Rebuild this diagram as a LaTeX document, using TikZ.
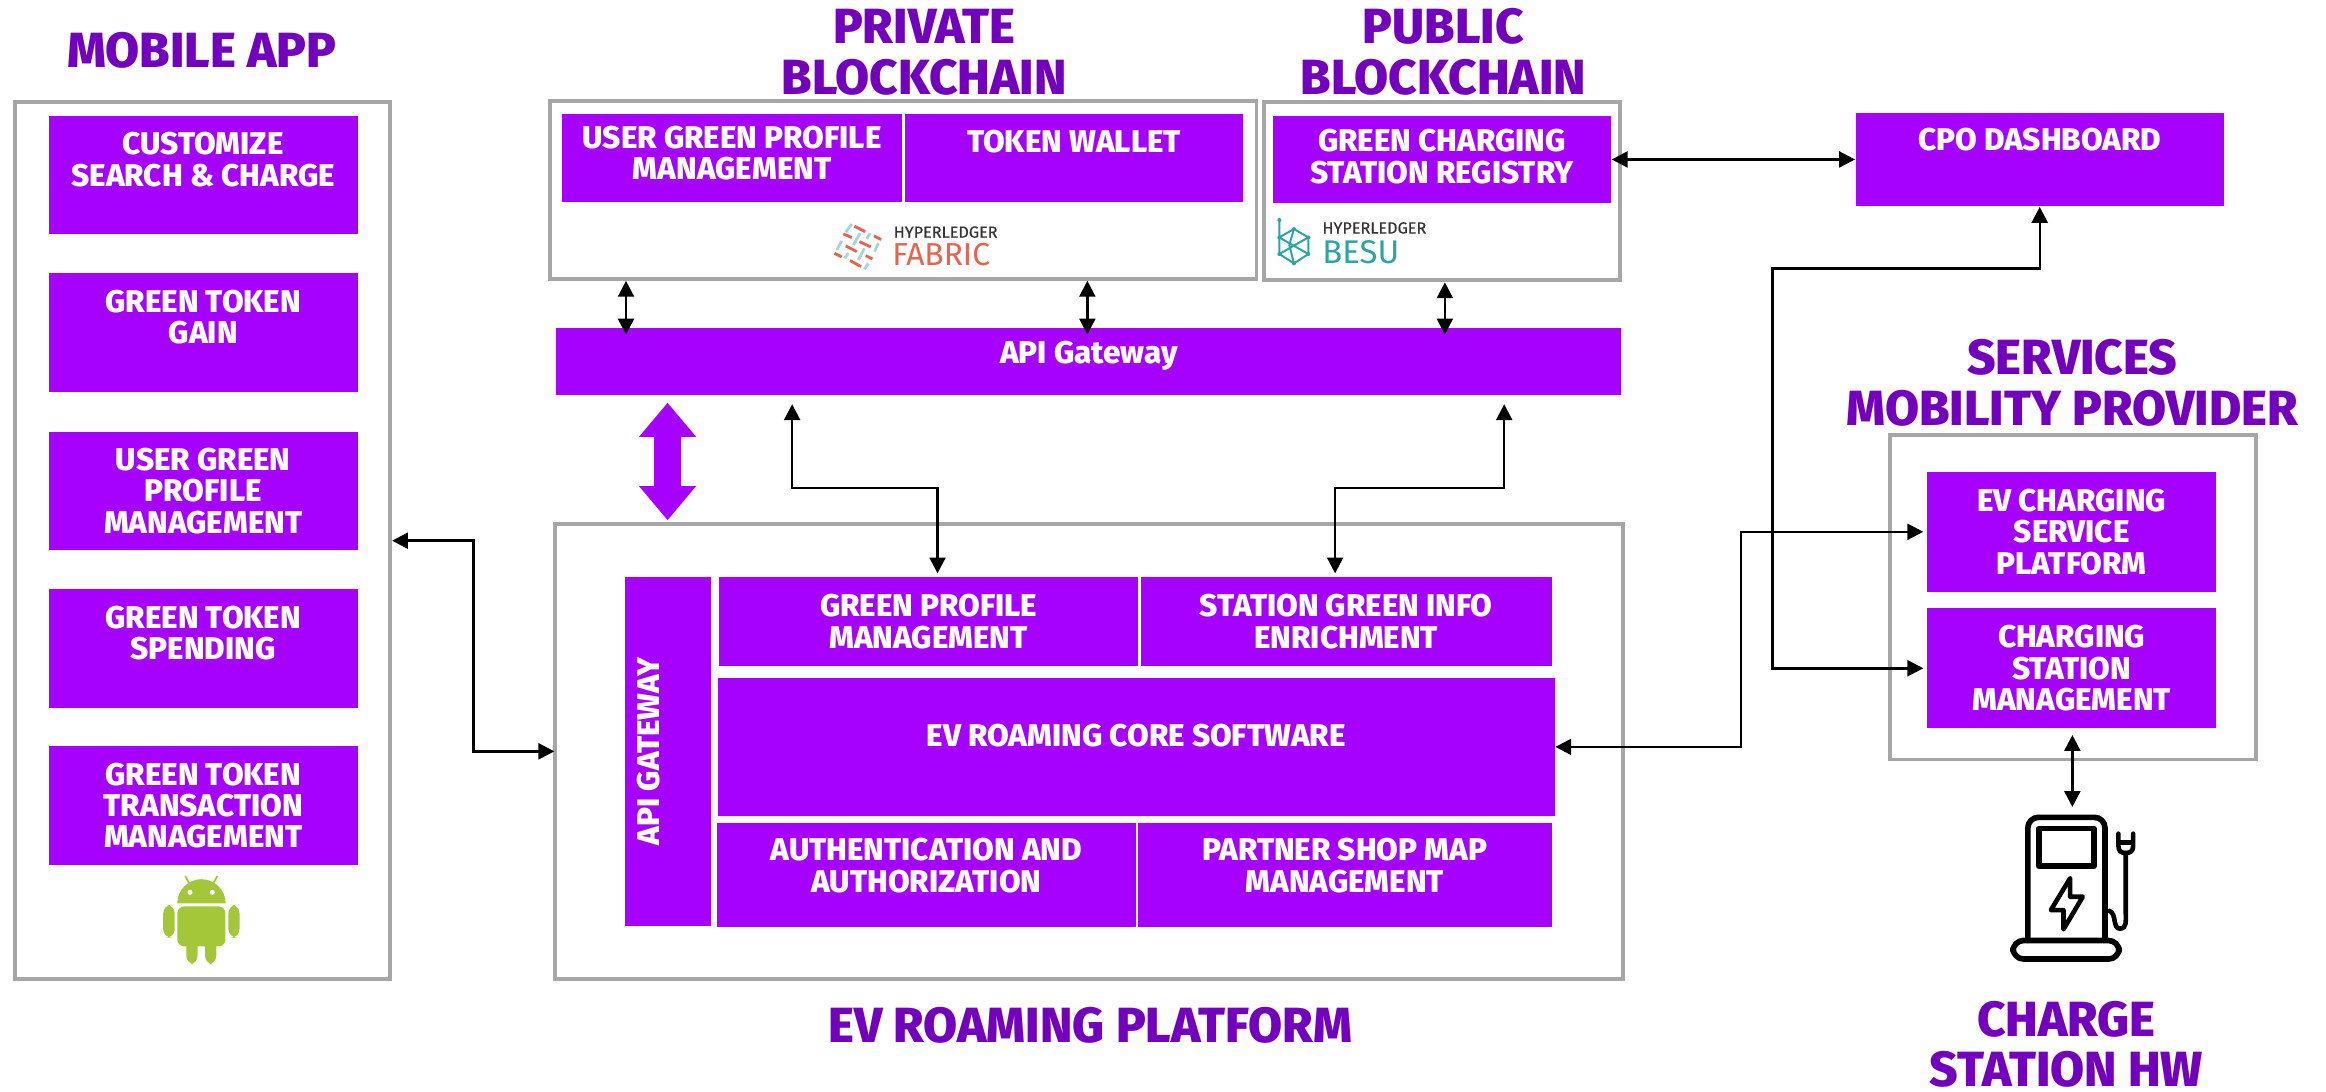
\documentclass[tikz,border=0pt]{standalone}
\usepackage{fontspec}
\setmainfont{Fira Sans}[BoldFont={Fira Sans ExtraBold}]
\usetikzlibrary{arrows.meta,calc}
\newcommand{\ux}{0.4205pt}
\definecolor{boxviolet}{HTML}{A600FF}
\definecolor{titleviolet}{HTML}{7200BE}
\definecolor{framegray}{HTML}{A6A6A6}
\definecolor{androidgreen}{HTML}{A4C639}
\definecolor{fabricred}{HTML}{E5634F}
\definecolor{fabricteal}{HTML}{A3D7DA}
\definecolor{besuteal}{HTML}{2AA6A0}
\tikzset{
    frame/.style={draw=framegray, line width=1.1pt, fill=white, inner sep=0pt},
    pbox/.style={fill=boxviolet, text=white, align=center, inner sep=0pt, font=\fontsize{8.9}{8.9}\selectfont\bfseries},
    title/.style={text=titleviolet, align=center, inner sep=0pt, font=\fontsize{14}{14.4}\selectfont\bfseries},
    link/.style={line width=0.7pt, {Triangle[length=4.5pt,width=4.5pt]}-{Triangle[length=4.5pt,width=4.5pt]}},
    wordmark/.style={inner sep=0pt, anchor=west}
}
\begin{document}
\begin{tikzpicture}[x=\ux, y=-\ux]
    \useasboundingbox (0,0) rectangle (1568,736);

    % Titles
    \node[title] (tmobile) at (136,34) {MOBILE APP};
    \node[title] (tprivate) at (623,35) {PRIVATE\\BLOCKCHAIN};
    \node[title] (tpublic) at (973,35) {PUBLIC\\BLOCKCHAIN};
    \node[title] (tservices) at (1397,258) {SERVICES\\MOBILITY PROVIDER};
    \node[title] (troaming) at (735,691) {EV ROAMING PLATFORM};
    \node[title] (tcharge) at (1393,704) {CHARGE\\STATION HW};

    % Outer frames
    \node[frame, minimum width=253*\ux, minimum height=591*\ux] (mobile) at (136.5,364.5) {};
    \node[frame, minimum width=476*\ux, minimum height=120*\ux] (private) at (609,128) {};
    \node[frame, minimum width=240*\ux, minimum height=120*\ux] (public) at (972,129) {};
    \node[frame, minimum width=720*\ux, minimum height=307*\ux] (evroam) at (734,506.5) {};
    \node[frame, minimum width=247*\ux, minimum height=219*\ux] (services) at (1397.5,402.5) {};

    % Mobile app boxes
    \node[pbox, minimum width=208*\ux, minimum height=80*\ux] (customize) at (137,118) {CUSTOMIZE\\SEARCH \& CHARGE\\~};
    \node[pbox, minimum width=208*\ux, minimum height=80*\ux] (gain) at (137,224) {GREEN TOKEN\\GAIN\\~};
    \node[pbox, minimum width=208*\ux, minimum height=80*\ux] (profile) at (137,331) {USER GREEN\\PROFILE\\MANAGEMENT};
    \node[pbox, minimum width=208*\ux, minimum height=80*\ux] (spending) at (137,437) {GREEN TOKEN\\SPENDING\\~};
    \node[pbox, minimum width=208*\ux, minimum height=80*\ux] (transaction) at (137,543) {GREEN TOKEN\\TRANSACTION\\MANAGEMENT};

    % Blockchain boxes
    \node[pbox, minimum width=229*\ux, minimum height=59*\ux] (userprofile) at (493.5,106.5) {USER GREEN PROFILE\\MANAGEMENT\\[-6pt]~};
    \node[pbox, minimum width=228*\ux, minimum height=59*\ux] (wallet) at (724,106.5) {TOKEN WALLET\\[0.8pt]~};
    \node[pbox, minimum width=228*\ux, minimum height=59*\ux] (registry) at (972,107.5) {GREEN CHARGING\\STATION REGISTRY\\[-7pt]~};
    \node[pbox, minimum width=718*\ux, minimum height=45*\ux] (apigw) at (734,243.5) {API Gateway\\[-4pt]~};

    % EV roaming platform boxes
    \node[pbox, rotate=90, minimum width=235*\ux, minimum height=58*\ux] (vertgw) at (450,506.5) {API GATEWAY\\[2.2pt]~};
    \node[pbox, minimum width=282*\ux, minimum height=60*\ux] (greenprofile) at (626,419) {GREEN PROFILE\\MANAGEMENT};
    \node[pbox, minimum width=277*\ux, minimum height=60*\ux] (stationinfo) at (907.5,419) {STATION GREEN INFO\\ENRICHMENT};
    \node[pbox, minimum width=564*\ux, minimum height=93*\ux] (core) at (766,503.5) {EV ROAMING CORE SOFTWARE\\[-2.5pt]~};
    \node[pbox, minimum width=283*\ux, minimum height=70*\ux] (auth) at (624.5,590) {AUTHENTICATION AND\\AUTHORIZATION\\[-3.3pt]~};
    \node[pbox, minimum width=279*\ux, minimum height=70*\ux] (partner) at (906.5,590) {PARTNER SHOP MAP\\MANAGEMENT\\[-3.3pt]~};

    % Right column boxes
    \node[pbox, minimum width=248*\ux, minimum height=63*\ux] (cpo) at (1375,107.5) {CPO DASHBOARD\\[2.5pt]~};
    \node[pbox, minimum width=195*\ux, minimum height=81*\ux] (evservice) at (1396.5,358.5) {EV CHARGING\\SERVICE\\PLATFORM};
    \node[pbox, minimum width=195*\ux, minimum height=81*\ux] (stationmgmt) at (1396.5,450.5) {CHARGING\\STATION\\MANAGEMENT};

    % Charge station icon
    \coordinate (pump) at (1397,544);
    \draw[line width=1.6pt, rounded corners=3pt] (1367,634) -- (1367,551) -- (1419,551) -- (1419,634);
    \draw[line width=1.6pt, rounded corners=3pt, line join=round] (1357,646.5) -- (1357,634) -- (1428.5,634) -- (1428.5,646.5) -- cycle;
    \draw[line width=1.6pt, line join=round] (1374.5,558.5) rectangle (1411.5,584);
    \draw[line width=1.3pt, line join=round] (1395.5,592) -- (1382.5,613.5) -- (1391,613.5) -- (1391,626.5) -- (1404,604.5) -- (1395.5,604.5) -- cycle;
    \draw[line width=1.3pt, line cap=round] (1422,614) .. controls (1427,616) and (1424,626) .. (1429,626) .. controls (1434,626) and (1433,620) .. (1433,616) -- (1433,575);
    \draw[line width=1.3pt, line cap=round, line join=round] (1428,562) -- (1428,570) .. controls (1428,574) and (1430,575) .. (1433,575) .. controls (1436,575) and (1438,574) .. (1438,570) -- (1438,562);
    \draw[line width=1.3pt] (1428,568) -- (1438,568);

    % Android logo
    \fill[androidgreen] (119.5,609) arc[start angle=180, end angle=360, radius=16.3] -- cycle;
    \fill[androidgreen, rounded corners=2pt] (119.5,611) rectangle (152,638);
    \fill[androidgreen, rounded corners=2.4pt] (110,610) rectangle (117.8,632);
    \fill[androidgreen, rounded corners=2.4pt] (154,610) rectangle (161.5,632);
    \fill[androidgreen, rounded corners=2.4pt] (125.6,630) rectangle (133.2,650);
    \fill[androidgreen, rounded corners=2.4pt] (138.2,630) rectangle (145.8,650);
    \fill[white] (128.1,601.5) circle[radius=1.7];
    \fill[white] (143.1,601.5) circle[radius=1.7];
    \draw[androidgreen, line width=0.5pt] (127.6,595.5) -- (124.9,590.5);
    \draw[androidgreen, line width=0.5pt] (143.7,595.5) -- (146.6,590.5);

    % Hyperledger wordmarks
    \node[wordmark, text=black!80, font=\fontsize{4.6}{5}\selectfont\addfontfeature{FakeBold=0.3}] (hlfabric) at (602,156.5) {HYPERLEDGER};
    \node[wordmark, text=fabricred, font=\fontsize{9}{10}\selectfont] (fabric) at (601,171.5) {FABRIC};
    \node[wordmark, text=black!80, font=\fontsize{4.6}{5}\selectfont\addfontfeature{FakeBold=0.3}] (hlbesu) at (891,153.7) {HYPERLEDGER};
    \node[wordmark, text=besuteal, font=\fontsize{9.3}{10}\selectfont] (besu) at (891,169.7) {BESU};

    % Fabric weave
    \begin{scope}[shift={(556.2,144.9)}, scale=0.2247]
        \foreach \xa/\ya/\xb/\yb in {88/34/120/50, 147/63/168/74, 55/57/80/68, 103/80/137/96, 62/93/95/110, 122/122/142/132, 28/115/50/126, 75/137/108/155}
            \draw[fabricred, line width=0.8pt] (\xa,\ya) -- (\xb,\yb);
        \foreach \xa/\ya/\xb/\yb in {80/27/62/52, 135/55/125/72, 105/55/85/90, 50/78/35/105, 160/85/148/110, 118/100/100/135, 70/115/58/130, 130/145/118/163}
            \draw[fabricteal, line width=0.8pt] (\xa,\ya) -- (\xb,\yb);
    \end{scope}

    % Besu mark
    \begin{scope}[shift={(856.1,141.6)}, scale=0.2247]
        \draw[besuteal, line width=0.55pt, line join=round] (28,30) -- (28,82) -- (72,57) -- (115,82) -- (115,132) -- (72,160) -- (28,132) -- (28,82);
        \draw[besuteal, line width=0.55pt] (28,82) -- (115,132) (115,82) -- (28,132) (72,57) -- (58,105) -- (72,160);
        \foreach \xa/\ya in {28/30, 28/82, 72/57, 115/82, 115/132, 72/160, 28/132}
            \fill[besuteal] (\xa,\ya) circle[radius=6];
    \end{scope}

    % Arrows
    \draw[link] ($(private.south)+(-187,0)$) -- ($(apigw.north)+(-312,5)$);
    \draw[link] ($(private.south)+(124,0)$) -- ($(apigw.north)+(-1,5)$);
    \draw[link] ($(public.south)+(2,0)$) -- ($(apigw.north)+(240,5)$);
    \draw[boxviolet, line width=18*\ux, {Triangle[width=15.6pt,length=9.7pt]}-{Triangle[width=15.6pt,length=9.7pt]}] ($(apigw.south)+(-284,5)$) -- ($(evroam.north)+(-284,-1)$);
    \draw[link] ($(apigw.south)+(-200,6)$) |- (583,329) -| ($(greenprofile.north)+(6,-2)$);
    \draw[link] ($(apigw.south)+(280,6)$) |- (957,329) -| ($(stationinfo.north)+(-7.5,-2)$);
    \draw[link] (mobile.east) -- ++(55,0) |- ($(evroam.west)+(1,0)$);
    \draw[link] (registry.east) -- (cpo.west);
    \draw[link] (core.east) -- ++(125,0) |- ($(evservice.west)+(-2,0)$);
    \coordinate (cpoturn) at (1195,181);
    \draw[link] (cpo.south) |- (cpoturn) |- ($(stationmgmt.west)+(-2,0)$);
    \draw[link] ($(stationmgmt.south)+(0.5,4)$) -- (pump);
\end{tikzpicture}
\end{document}
